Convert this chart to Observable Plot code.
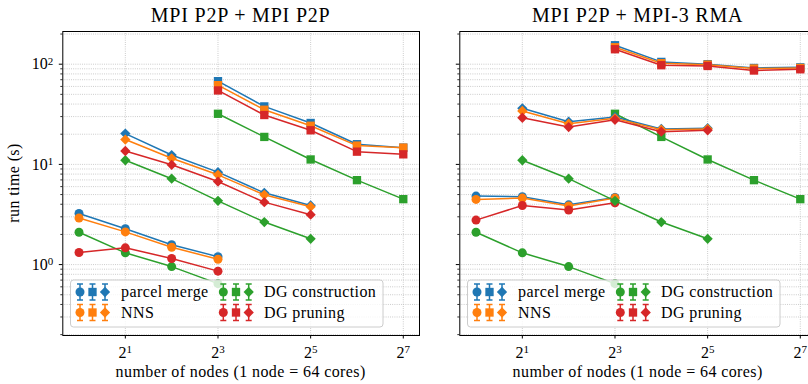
<!DOCTYPE html>
<html>
<head>
<meta charset="utf-8">
<script src="https://cdn.jsdelivr.net/npm/d3@7"></script>
<script src="https://cdn.jsdelivr.net/npm/@observablehq/plot@0.6"></script>
<style>
html, body { margin: 0; padding: 0; overflow: hidden; background: #fff; width: 808px; height: 384px; }
#root { position: relative; width: 808px; height: 384px; overflow: hidden; background: #fff; }
.panel { position: absolute; top: 0; width: 429px; height: 384px; }
#overlay { position: absolute; left: 0; top: 0; pointer-events: none; }
</style>
</head>
<body>
<div id="root"></div>
<script>
// ---------- data ----------
const algorithms = ["parcel merge", "NNS", "DG construction", "DG pruning"];
const colors = ["#1f77b4", "#ff7f0e", "#2ca02c", "#d62728"];
const panelTitles = ["MPI P2P + MPI P2P", "MPI P2P + MPI-3 RMA"];

const nodesCircle = [1, 2, 4, 8];
const nodesSquare = [8, 16, 32, 64, 128];
const nodesDiamond = [2, 4, 8, 16, 32];

// MPI P2P + MPI P2P (rows in algorithm order)
const p2pCircle = [
  [3.24, 2.28, 1.58, 1.20],
  [2.92, 2.12, 1.49, 1.13],
  [2.10, 1.31, 0.955, 0.645],
  [1.32, 1.47, 1.15, 0.86]
];
const p2pSquare = [
  [67.7, 37.9, 25.9, 15.9, 14.7],
  [61.8, 35.1, 24.3, 15.4, 14.7],
  [32.0, 18.8, 11.2, 6.96, 4.5],
  [54.7, 31.1, 21.9, 13.4, 12.6]
];
const p2pDiamond = [
  [20.3, 12.4, 8.37, 5.2, 3.89],
  [17.7, 11.5, 7.87, 4.97, 3.78],
  [11.0, 7.2, 4.33, 2.66, 1.81],
  [13.6, 9.9, 6.74, 4.2, 3.15]
];

// MPI P2P + MPI-3 RMA
const rmaCircle = [
  [4.83, 4.76, 3.95, 4.67],
  [4.47, 4.61, 3.84, 4.61],
  [2.10, 1.31, 0.955, 0.645],
  [2.78, 3.89, 3.50, 4.14]
];
const rmaSquare = [
  [154.6, 105.4, 100.0, 91.7, 93.0],
  [147.6, 102.3, 99.0, 90.5, 91.7],
  [32.0, 18.8, 11.2, 6.96, 4.5],
  [141.0, 97.7, 96.0, 86.5, 89.0]
];
const rmaDiamond = [
  [36.3, 26.7, 29.7, 22.6, 23.0],
  [34.1, 25.5, 28.8, 22.2, 22.6],
  [11.0, 7.2, 4.33, 2.66, 1.81],
  [29.2, 23.6, 27.9, 21.2, 21.9]
];

const xTicks = [2, 8, 32, 128];
const yMajor = [1, 10, 100];
const yMinor = [0.2, 0.3, 0.4, 0.5, 0.6, 0.7, 0.8, 0.9, 2, 3, 4, 5, 6, 7, 8, 9,
                20, 30, 40, 50, 60, 70, 80, 90, 200];

// ---------- layout ----------
const W = 429, H = 384, ML = 62.3, MR = 10, MT = 31, MB = 49;
const OFFSET = 397;
const FONT = "'Liberation Serif', 'Times New Roman', serif";

const diamondSym = {
  draw(ctx, size) {
    const r = Math.sqrt(size / 2);
    ctx.moveTo(0, -r); ctx.lineTo(r, 0); ctx.lineTo(0, r); ctx.lineTo(-r, 0); ctx.closePath();
  }
};
const markerStyles = [
  {symbol: "circle", r: 4.5},
  {symbol: "square", r: 4.7},
  {symbol: diamondSym, r: 4.1}
];

function panelMarks(circle, square, diamond) {
  const groups = [[nodesCircle, circle], [nodesSquare, square], [nodesDiamond, diamond]];
  const marks = [];
  groups.forEach(([nodes, vals], gi) => {
    vals.forEach((v, ai) => {
      const rows = nodes.map((n, i) => ({nodes: n, time: v[i]}));
      marks.push(Plot.line(rows, {x: "nodes", y: "time", stroke: colors[ai], strokeWidth: 1.5}));
      marks.push(Plot.dot(rows, {x: "nodes", y: "time", fill: colors[ai], stroke: "none",
        symbol: markerStyles[gi].symbol, r: markerStyles[gi].r}));
    });
  });
  return marks;
}

function makePlot(circle, square, diamond, showY) {
  const gridStyle = {stroke: "#b0b0b0", strokeOpacity: 1, strokeWidth: 0.8, strokeDasharray: "0.8,1.4"};
  return Plot.plot({
    width: W, height: H,
    marginLeft: ML, marginRight: MR, marginTop: MT, marginBottom: MB,
    style: {background: "transparent", fontFamily: FONT, fontSize: "16px", color: "black", maxWidth: "none", overflow: "visible"},
    x: {type: "log", base: 2, domain: [Math.pow(2, -0.35), Math.pow(2, 7.35)]},
    y: {type: "log", domain: [0.196, 212]},
    marks: [
      Plot.gridY(yMajor.concat(yMinor), gridStyle),
      Plot.gridX(xTicks, gridStyle),
      ...panelMarks(circle, square, diamond),
      Plot.frame({stroke: "black", strokeWidth: 1}),
      Plot.axisY(yMajor, {tickSize: 3.5, tickPadding: 6, strokeWidth: 1, label: null,
        tickFormat: showY ? (d => "10^" + Math.round(Math.log10(d))) : (() => "")}),
      Plot.axisY(yMinor, {tickSize: 2, strokeWidth: 0.8, label: null, tickFormat: () => ""}),
      Plot.axisX(xTicks, {tickSize: 3.5, tickPadding: 7.5, strokeWidth: 1, label: null,
        tickFormat: d => "2^" + Math.round(Math.log2(d))})
    ]
  });
}

function superscripts(svg) {
  svg.querySelectorAll("text").forEach(t => {
    const s = t.textContent;
    if (s.includes("^")) {
      const [base, exp] = s.split("^");
      t.textContent = base;
      const ts = document.createElementNS("http://www.w3.org/2000/svg", "tspan");
      ts.setAttribute("dy", "-0.42em");
      ts.setAttribute("font-size", "11px");
      ts.textContent = exp;
      t.appendChild(ts);
    }
  });
}

const root = document.getElementById("root");
const panelsData = [[p2pCircle, p2pSquare, p2pDiamond], [rmaCircle, rmaSquare, rmaDiamond]];
panelsData.forEach((d, pi) => {
  const div = document.createElement("div");
  div.className = "panel";
  div.style.left = (pi * OFFSET) + "px";
  const svg = makePlot(d[0], d[1], d[2], pi === 0);
  superscripts(svg);
  div.appendChild(svg);
  root.appendChild(div);
});

// ---------- overlay: titles, labels, legends ----------
const ov = d3.select(root).append("svg").attr("id", "overlay")
  .attr("width", 808).attr("height", 384)
  .attr("font-family", FONT);

const frameCenter = (ML + (W - MR)) / 2;
panelTitles.forEach((title, pi) => {
  const ox = pi * OFFSET;
  ov.append("text").attr("x", ox + frameCenter).attr("y", 21.5)
    .attr("text-anchor", "middle").attr("font-size", 20).style("letter-spacing", "0.8px")
    .text(title);
  ov.append("text").attr("x", ox + frameCenter).attr("y", 376.5)
    .attr("text-anchor", "middle").attr("font-size", 16).style("letter-spacing", "0.4px")
    .text("number of nodes (1 node = 64 cores)");

  // legend
  const lg = ov.append("g").attr("transform", `translate(${ox},0)`);
  lg.append("rect").attr("x", 70.5).attr("y", 280).attr("width", 312.5).attr("height", 47)
    .attr("rx", 3).attr("fill", "rgba(255,255,255,0.8)").attr("stroke", "#cccccc").attr("stroke-width", 1);
  const colMarkers = [[80, 92.5, 105], [223.3, 236, 248.7]];
  const colText = [121, 264];
  const rowY = [292, 312.5];
  algorithms.forEach((name, ai) => {
    const col = Math.floor(ai / 2), row = ai % 2;
    const cy = rowY[row];
    colMarkers[col].forEach((mx, gi) => {
      const g = lg.append("g").attr("stroke", colors[ai]).attr("stroke-width", 1.5);
      g.append("line").attr("x1", mx).attr("x2", mx).attr("y1", cy - 8).attr("y2", cy + 8);
      g.append("line").attr("x1", mx - 3).attr("x2", mx + 3).attr("y1", cy - 8).attr("y2", cy - 8);
      g.append("line").attr("x1", mx - 3).attr("x2", mx + 3).attr("y1", cy + 8).attr("y2", cy + 8);
      const ms = markerStyles[gi];
      const symType = gi === 0 ? d3.symbolCircle : gi === 1 ? d3.symbolSquare : diamondSym;
      lg.append("path").attr("transform", `translate(${mx},${cy})`)
        .attr("d", d3.symbol(symType, Math.PI * ms.r * ms.r)())
        .attr("fill", colors[ai]);
    });
    lg.append("text").attr("x", colText[col]).attr("y", cy + 5)
      .attr("font-size", 16).style("letter-spacing", "0.4px").text(name);
  });
});

ov.append("text").attr("transform", "translate(19,183) rotate(-90)")
  .attr("text-anchor", "middle").attr("font-size", 16).style("letter-spacing", "0.4px")
  .text("run time (s)");
</script>
</body>
</html>
